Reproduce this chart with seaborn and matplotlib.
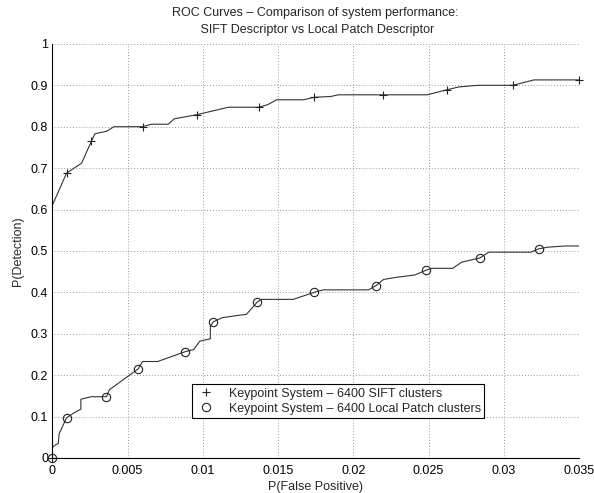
import matplotlib
matplotlib.use("Agg")
import matplotlib.pyplot as plt
from matplotlib.lines import Line2D
import seaborn as sns

# SIFT curve (line)
sift_fp = [0.0, 0.0, 0.00095, 0.00195, 0.0026, 0.00283, 0.0036, 0.0041, 0.006, 0.0066, 0.0077, 0.0081,
           0.0096, 0.0117, 0.0137, 0.0143, 0.0149, 0.0167, 0.0174, 0.0185, 0.019, 0.022, 0.0249,
           0.0262, 0.027, 0.0283, 0.0306, 0.032, 0.035]
sift_pd = [0.0, 0.61, 0.688, 0.712, 0.765, 0.783, 0.789, 0.80, 0.80, 0.806, 0.806, 0.819,
           0.829, 0.847, 0.847, 0.853, 0.865, 0.865, 0.871, 0.873, 0.877, 0.877, 0.877,
           0.889, 0.896, 0.90, 0.90, 0.913, 0.913]
# SIFT markers
sift_mk_fp = [0.0, 0.00095, 0.0026, 0.006, 0.0096, 0.0137, 0.0174, 0.022, 0.0262, 0.0306, 0.035]
sift_mk_pd = [0.0, 0.688, 0.765, 0.80, 0.829, 0.847, 0.871, 0.877, 0.889, 0.90, 0.913]

# Local Patch curve (line)
lp_fp = [0.0, 0.0, 0.00018, 0.0004, 0.00046, 0.00095, 0.0014, 0.0019, 0.0019, 0.0026, 0.0036, 0.0038,
         0.0057, 0.006, 0.007, 0.00885, 0.0094, 0.0098, 0.0105, 0.0105, 0.0107, 0.0113, 0.0129,
         0.0136, 0.0139, 0.016, 0.0174, 0.018, 0.021, 0.0215, 0.022, 0.0228, 0.0241, 0.0248,
         0.0252, 0.0266, 0.0272, 0.0284, 0.029, 0.0318, 0.0323, 0.0329, 0.0341, 0.035]
lp_pd = [0.0, 0.025, 0.031, 0.035, 0.059, 0.097, 0.108, 0.118, 0.142, 0.148, 0.148, 0.165,
         0.215, 0.233, 0.233, 0.257, 0.262, 0.282, 0.288, 0.318, 0.329, 0.339, 0.347,
         0.376, 0.383, 0.383, 0.400, 0.406, 0.406, 0.416, 0.431, 0.436, 0.442, 0.453,
         0.458, 0.458, 0.473, 0.483, 0.497, 0.497, 0.505, 0.509, 0.512, 0.512]
# Local Patch markers
lp_mk_fp = [0.0, 0.00095, 0.0036, 0.0057, 0.00885, 0.0107, 0.0136, 0.0174, 0.0215, 0.0248, 0.0284, 0.0323]
lp_mk_pd = [0.0, 0.097, 0.148, 0.215, 0.257, 0.329, 0.376, 0.400, 0.416, 0.453, 0.483, 0.505]

x_ticks = [0, 0.005, 0.01, 0.015, 0.02, 0.025, 0.03, 0.035]
x_ticklabels = ["0", "0.005", "0.01", "0.015", "0.02", "0.025", "0.03", "0.035"]
y_ticks = [0, 0.1, 0.2, 0.3, 0.4, 0.5, 0.6, 0.7, 0.8, 0.9, 1.0]
y_ticklabels = ["0", "0.1", "0.2", "0.3", "0.4", "0.5", "0.6", "0.7", "0.8", "0.9", "1"]

sns.set_style("white")
plt.rcParams['font.family'] = ['Liberation Sans', 'DejaVu Sans']

fig = plt.figure(figsize=(5.94, 4.93), dpi=100)
ax = fig.add_axes([0.088, 0.071, 0.887, 0.840])

fs = 9
lc = "#333333"
sns.lineplot(x=sift_fp, y=sift_pd, sort=False, estimator=None, ax=ax, color=lc, linewidth=0.8)
sns.lineplot(x=lp_fp, y=lp_pd, sort=False, estimator=None, ax=ax, color=lc, linewidth=0.8)
ax.plot(sift_mk_fp, sift_mk_pd, linestyle="none", marker="+", markersize=6, color="#222222",
        markeredgewidth=0.8, clip_on=False)
ax.plot(lp_mk_fp, lp_mk_pd, linestyle="none", marker="o", markersize=6, markerfacecolor="none",
        markeredgecolor="#222222", markeredgewidth=0.8, clip_on=False)

ax.set_xlim(0, 0.035)
ax.set_ylim(0, 1)
ax.set_xticks(x_ticks)
ax.set_xticklabels(x_ticklabels)
ax.set_yticks(y_ticks)
ax.set_yticklabels(y_ticklabels)
ax.tick_params(direction="in", length=4, width=0.8, labelsize=fs, colors="black")
ax.tick_params(axis="x", pad=5)
ax.tick_params(axis="y", pad=3)
ax.grid(True, linestyle=(0, (1, 2)), color="#999999", linewidth=0.7)

for s in ["top", "right"]:
    ax.spines[s].set_visible(False)
for s in ["left", "bottom"]:
    ax.spines[s].set_color("black")
    ax.spines[s].set_linewidth(0.8)

ax.set_xlabel("P(False Positive)", fontsize=fs, labelpad=3)
ax.set_ylabel("P(Detection)", fontsize=fs, labelpad=5)
ax.set_title("ROC Curves \u2013 Comparison of system performance:\n SIFT Descriptor vs Local Patch Descriptor",
             fontsize=fs, pad=8, linespacing=1.5)

handles = [Line2D([], [], linestyle="none", marker="+", markersize=6, color="#222222", markeredgewidth=0.8),
           Line2D([], [], linestyle="none", marker="o", markersize=6, markerfacecolor="none",
                  markeredgecolor="#222222", markeredgewidth=0.8)]
labels = ["Keypoint System \u2013 6400 SIFT clusters", "Keypoint System \u2013 6400 Local Patch clusters"]
leg = ax.legend(handles, labels, loc="lower left", bbox_to_anchor=(0.265, 0.097), fontsize=fs,
                frameon=True, fancybox=False, edgecolor="black", framealpha=1, borderpad=0.25,
                handletextpad=0.9, labelspacing=0.25, handlelength=1.8, borderaxespad=0)
leg.get_frame().set_linewidth(0.8)

fig.savefig("out.png", dpi=100)
